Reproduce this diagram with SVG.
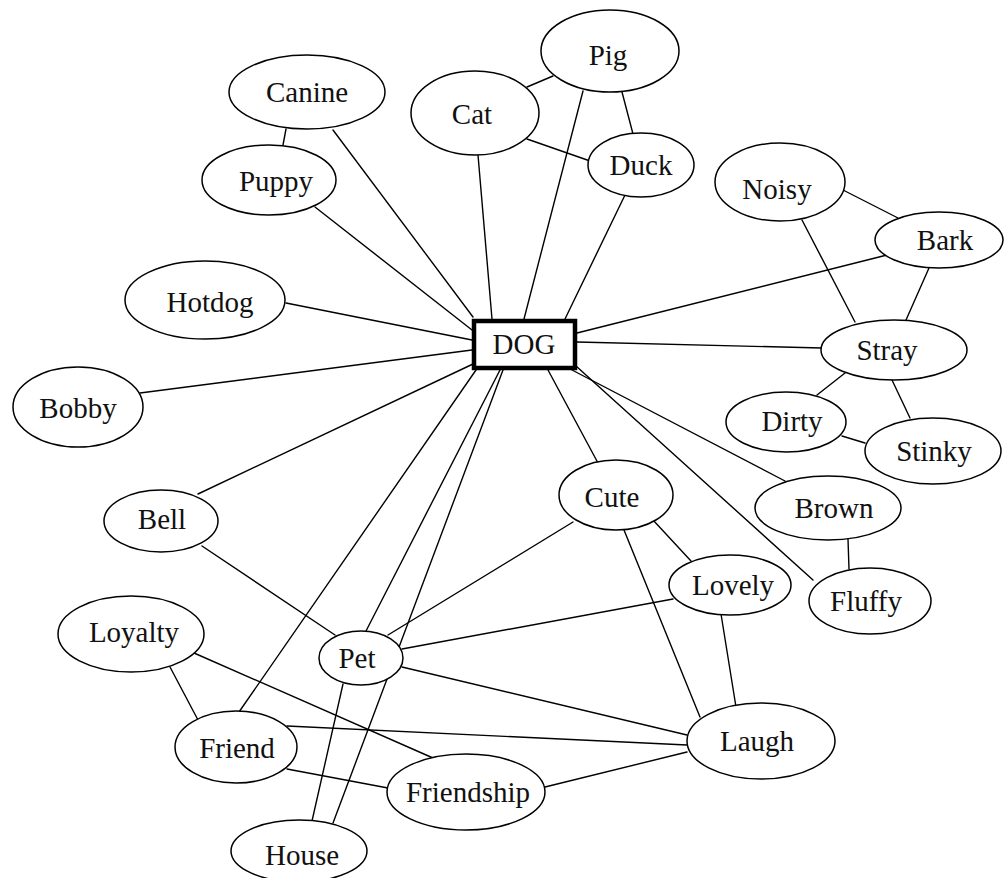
<svg xmlns="http://www.w3.org/2000/svg" width="1004" height="878" viewBox="0 0 1004 878">
  <style>
    .node ellipse { fill: #ffffff; stroke: #000000; stroke-width: 1.5; }
    .node rect { fill: #ffffff; stroke: #000000; stroke-width: 4.5; }
    .node text { font-family: "Liberation Serif", "Times New Roman", serif; font-size: 29px; fill: #111111; text-anchor: middle; }
    #edges line { stroke: #000000; stroke-width: 1.4; stroke-linecap: round; }
  </style>
  <rect x="0" y="0" width="1004" height="878" fill="#ffffff"/>

  <!-- connectors -->
  <g id="edges">
    <!-- spokes from DOG -->
    <line x1="333" y1="130" x2="473" y2="317"/>
    <line x1="315" y1="207" x2="472" y2="330"/>
    <line x1="478" y1="155" x2="492" y2="319"/>
    <line x1="583" y1="91" x2="524" y2="319"/>
    <line x1="625" y1="195" x2="565" y2="319"/>
    <line x1="286" y1="303" x2="472" y2="340"/>
    <line x1="140" y1="393" x2="472" y2="350"/>
    <line x1="198" y1="494" x2="473" y2="364"/>
    <line x1="239" y1="712" x2="476" y2="370"/>
    <line x1="366" y1="631" x2="500" y2="370"/>
    <line x1="333" y1="823" x2="503" y2="370"/>
    <line x1="598" y1="463" x2="548" y2="370"/>
    <line x1="785" y1="481" x2="572" y2="370"/>
    <line x1="813" y1="580" x2="576" y2="366"/>
    <line x1="887" y1="255" x2="577" y2="333"/>
    <line x1="822" y1="348" x2="577" y2="342"/>
    <!-- other links -->
    <line x1="286" y1="129" x2="283" y2="145"/>
    <line x1="527" y1="87" x2="553" y2="76"/>
    <line x1="527" y1="139" x2="593" y2="162"/>
    <line x1="622" y1="92" x2="633" y2="134"/>
    <line x1="843" y1="190" x2="898" y2="218"/>
    <line x1="802" y1="220" x2="855" y2="322"/>
    <line x1="929" y1="268" x2="906" y2="320"/>
    <line x1="845" y1="373" x2="817" y2="395"/>
    <line x1="892" y1="380" x2="910" y2="418"/>
    <line x1="842" y1="436" x2="865" y2="443"/>
    <line x1="848" y1="539" x2="849" y2="569"/>
    <line x1="653" y1="520" x2="691" y2="561"/>
    <line x1="624" y1="530" x2="700" y2="717"/>
    <line x1="573" y1="522" x2="388" y2="635"/>
    <line x1="721" y1="614" x2="736" y2="707"/>
    <line x1="673" y1="599" x2="402" y2="649"/>
    <line x1="402" y1="667" x2="687" y2="735"/>
    <line x1="202" y1="546" x2="335" y2="635"/>
    <line x1="343" y1="684" x2="312" y2="821"/>
    <line x1="170" y1="667" x2="198" y2="720"/>
    <line x1="194" y1="653" x2="433" y2="758"/>
    <line x1="287" y1="726" x2="687" y2="745"/>
    <line x1="287" y1="769" x2="388" y2="788"/>
    <line x1="545" y1="787" x2="687" y2="752"/>
  </g>

  <!-- nodes -->
  <g id="node-pig" class="node"><ellipse cx="610" cy="51" rx="69" ry="41"/><text x="608" y="65">Pig</text></g>
  <g id="node-canine" class="node"><ellipse cx="307" cy="92" rx="78" ry="37"/><text x="307" y="102">Canine</text></g>
  <g id="node-cat" class="node"><ellipse cx="475" cy="113" rx="64" ry="42"/><text x="472" y="124">Cat</text></g>
  <g id="node-duck" class="node"><ellipse cx="641" cy="165" rx="53" ry="32"/><text x="641" y="175">Duck</text></g>
  <g id="node-puppy" class="node"><ellipse cx="269" cy="180" rx="67" ry="35"/><text x="276" y="191">Puppy</text></g>
  <g id="node-noisy" class="node"><ellipse cx="780" cy="182" rx="65" ry="39"/><text x="777" y="199">Noisy</text></g>
  <g id="node-bark" class="node"><ellipse cx="939" cy="240" rx="64" ry="28"/><text x="945" y="250">Bark</text></g>
  <g id="node-hotdog" class="node"><ellipse cx="205" cy="300" rx="80" ry="39"/><text x="210" y="312">Hotdog</text></g>
  <g id="node-dog" class="node"><rect x="474" y="321" width="101" height="47"/><text x="524" y="354">DOG</text></g>
  <g id="node-stray" class="node"><ellipse cx="894" cy="350" rx="73" ry="30"/><text x="887" y="360">Stray</text></g>
  <g id="node-bobby" class="node"><ellipse cx="78" cy="407" rx="65" ry="40"/><text x="78" y="418">Bobby</text></g>
  <g id="node-dirty" class="node"><ellipse cx="786" cy="422" rx="60" ry="30"/><text x="792" y="431">Dirty</text></g>
  <g id="node-stinky" class="node"><ellipse cx="933" cy="451" rx="68" ry="33"/><text x="934" y="461">Stinky</text></g>
  <g id="node-cute" class="node"><ellipse cx="616" cy="495" rx="57" ry="35"/><text x="612" y="507">Cute</text></g>
  <g id="node-bell" class="node"><ellipse cx="161" cy="521" rx="57" ry="31"/><text x="162" y="529">Bell</text></g>
  <g id="node-brown" class="node"><ellipse cx="828" cy="508" rx="73" ry="32"/><text x="834" y="518">Brown</text></g>
  <g id="node-lovely" class="node"><ellipse cx="730" cy="585" rx="61" ry="30"/><text x="733" y="595">Lovely</text></g>
  <g id="node-fluffy" class="node"><ellipse cx="870" cy="601" rx="61" ry="33"/><text x="866" y="611">Fluffy</text></g>
  <g id="node-loyalty" class="node"><ellipse cx="131" cy="634" rx="73" ry="38"/><text x="134" y="642">Loyalty</text></g>
  <g id="node-pet" class="node"><ellipse cx="361" cy="658" rx="42" ry="27"/><text x="357" y="668">Pet</text></g>
  <g id="node-laugh" class="node"><ellipse cx="761" cy="741" rx="74" ry="38"/><text x="757" y="751">Laugh</text></g>
  <g id="node-friend" class="node"><ellipse cx="236" cy="747" rx="61" ry="36"/><text x="237" y="758">Friend</text></g>
  <g id="node-friendship" class="node"><ellipse cx="466" cy="792" rx="79" ry="38"/><text x="468" y="802">Friendship</text></g>
  <g id="node-house" class="node"><ellipse cx="299" cy="851" rx="68" ry="31"/><text x="302" y="865">House</text></g>
</svg>
